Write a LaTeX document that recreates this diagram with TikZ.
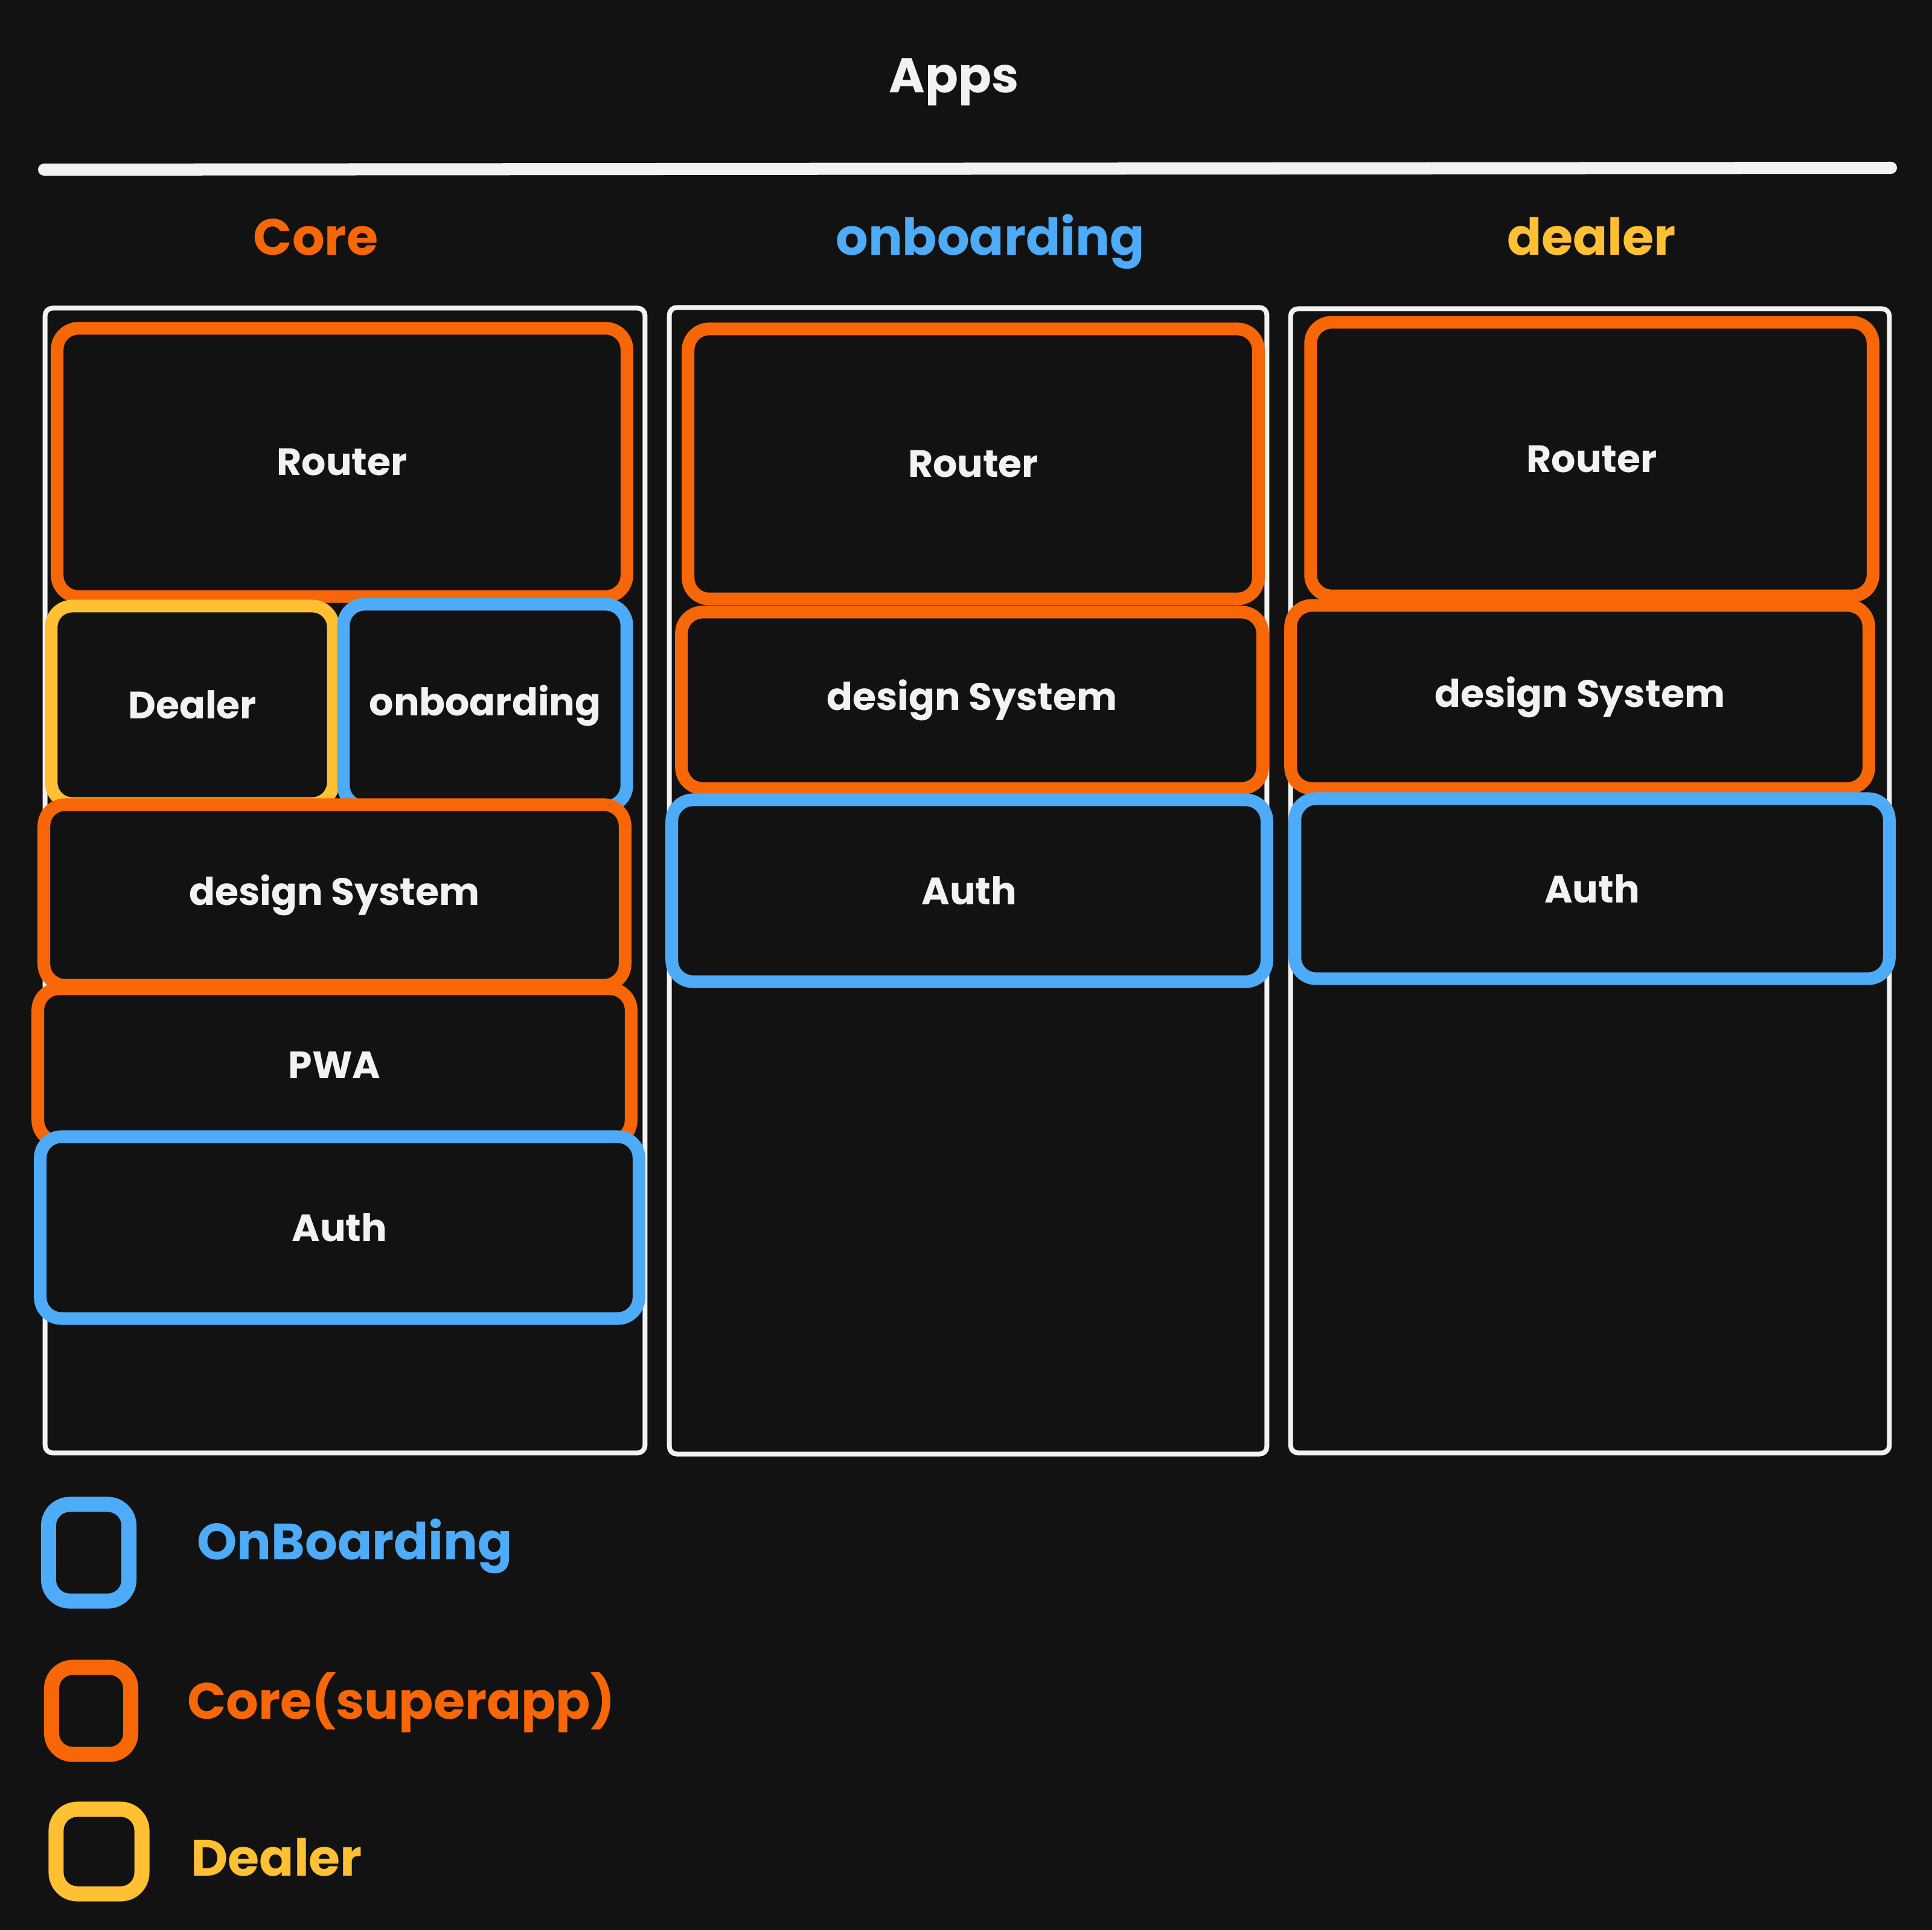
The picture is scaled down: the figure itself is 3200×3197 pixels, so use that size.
\documentclass[tikz,border=0pt]{standalone}
\usepackage{fontspec}
\setmainfont{Poppins}
\usetikzlibrary{positioning}
\definecolor{bgdark}{HTML}{121212}
\definecolor{coreorange}{HTML}{F76707}
\definecolor{onbblue}{HTML}{4DABF7}
\definecolor{dealyellow}{HTML}{FFC034}
\definecolor{inkwhite}{HTML}{F2F2F2}
\newcommand{\txtsize}[1]{\fontsize{#1}{#1}\selectfont\bfseries}

\begin{document}
\begin{tikzpicture}[x=0.01cm,y=-0.01cm]
	\tikzstyle{every node}=[text=inkwhite,font=\txtsize{18}]
	\tikzstyle{colbox}=[draw=inkwhite,fill=bgdark,line width=0.08cm,rounded corners=0.12cm,inner sep=0pt]
	\tikzstyle{part}=[fill=bgdark,line width=0.21cm,rounded corners=0.35cm,inner sep=0pt]
	\tikzstyle{corebox}=[part,draw=coreorange]
	\tikzstyle{onbbox}=[part,draw=onbblue]
	\tikzstyle{dealbox}=[part,draw=dealyellow]
	\tikzstyle{keybox}=[line width=0.25cm]
	\tikzstyle{head}=[font=\txtsize{24}]
	
	\fill[bgdark] (0,0) rectangle (3200,3197);
	\useasboundingbox (0,0) rectangle (3200,3197);
	
	% title and rule
	\node[font=\txtsize{23}] (apps) at (1580,136) {Apps};
	\coordinate (ruleL) at (73,281);
	\coordinate (ruleR) at (3132,278);
	\draw[inkwhite,line width=0.2cm,line cap=round] (ruleL) -- (ruleR);
	
	% column headers
	\node[head,text=coreorange] (hcore) at (523,393) {Core};
	\node[head,text=onbblue] (honb) at (1640,400) {onboarding};
	\node[head,text=dealyellow] (hdeal) at (2636,392) {dealer};
	
	% columns
	\node[colbox,minimum width=9.93cm,minimum height=18.95cm] (col1) at (571.5,1458.5) {};
	\node[colbox,minimum width=9.89cm,minimum height=18.98cm] (col2) at (1603.5,1459) {};
	\node[colbox,minimum width=9.91cm,minimum height=18.94cm] (col3) at (2633.5,1459) {};
	
	% core column
	\node[corebox,minimum width=9.43cm,minimum height=4.44cm] (c1router) at (566.5,766) {Router};
	\node[dealbox,minimum width=4.67cm,minimum height=3.27cm] (c1dealer) at (318.5,1167.5) {Dealer};
	\node[onbbox,minimum width=4.69cm,minimum height=3.35cm] (c1onb) at (803.5,1168.5) {onboarding};
	\node[corebox,minimum width=9.62cm,minimum height=2.99cm] (c1design) at (554,1482.5) {design System};
	\node[corebox,minimum width=9.82cm,minimum height=2.53cm] (c1pwa) at (554,1764.5) {PWA};
	\node[onbbox,minimum width=9.91cm,minimum height=3.01cm] (c1auth) at (562.5,2033.5) {Auth};
	
	% onboarding column
	\node[corebox,minimum width=9.44cm,minimum height=4.47cm] (c2router) at (1612,768.5) {Router};
	\node[corebox,minimum width=9.62cm,minimum height=2.92cm] (c2design) at (1610,1160) {design System};
	\node[onbbox,minimum width=9.85cm,minimum height=3.01cm] (c2auth) at (1605.5,1475.5) {Auth};
	
	% dealer column
	\node[corebox,minimum width=9.31cm,minimum height=4.53cm] (c3router) at (2636.5,760.5) {Router};
	\node[corebox,minimum width=9.57cm,minimum height=3.03cm] (c3design) at (2616.5,1154.5) {design System};
	\node[onbbox,minimum width=9.84cm,minimum height=2.98cm] (c3auth) at (2637,1472) {Auth};
	
	% legend
	\node[onbbox,keybox,minimum width=1.33cm,minimum height=1.60cm] (lgonb) at (147,2572) {};
	\node[corebox,keybox,minimum width=1.31cm,minimum height=1.44cm] (lgcore) at (151,2834) {};
	\node[dealbox,keybox,minimum width=1.42cm,minimum height=1.40cm] (lgdeal) at (164,3067) {};
	\node[head,text=onbblue,anchor=base west] (tonb) at (314,2583) {OnBoarding};
	\node[head,text=coreorange,anchor=base west] (tcore) at (298,2847) {Core(superapp)};
	\node[head,text=dealyellow,anchor=base west] (tdeal) at (304,3107) {Dealer};
\end{tikzpicture}
\end{document}
